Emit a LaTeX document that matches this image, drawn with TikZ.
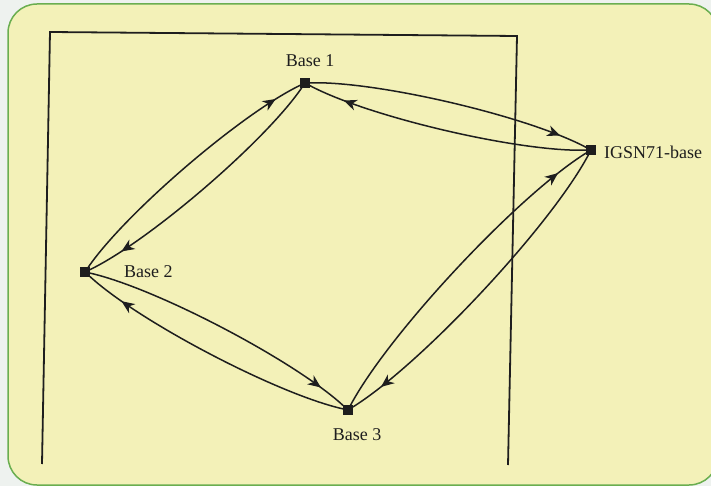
\documentclass[tikz,border=0pt]{standalone}
\usepackage{fontspec}
\setmainfont{Liberation Serif}
\usetikzlibrary{arrows.meta,decorations.markings}
\definecolor{panelfill}{HTML}{F3F1B8}
\definecolor{panelborder}{HTML}{6AAE50}
\definecolor{outside}{HTML}{EEF2EF}
\definecolor{ink}{HTML}{1E1E1E}
\tikzset{
  station/.style={fill=ink, draw=none, minimum size=9.5pt, inner sep=0pt, outer sep=0pt},
  lbl/.style={font=\fontsize{18}{18}\selectfont, text=ink, inner sep=0pt},
  leg/.style={draw=ink, line width=1.5pt, bend left=15, looseness=0.6,
    postaction={decorate, decoration={markings,
      mark=at position #1 with {\arrow{Stealth[length=13pt,width=11pt,inset=4pt]}}}}},
  leg/.default=0.9,
  framestyle/.style={draw=ink, line width=1.8pt},
}
\begin{document}
\begin{tikzpicture}[x=1pt,y=-1pt]
  \useasboundingbox (0,0) rectangle (711,486);
  \fill[outside] (0,0) rectangle (711,486);
  \draw[panelborder, fill=panelfill, line width=1.5pt, rounded corners=29pt]
    (8,4) rectangle (718,485);
  % frame
  \coordinate (fbl) at (42,464);
  \coordinate (ftl) at (50,32);
  \coordinate (ftr) at (517,36);
  \coordinate (fbr) at (508,465);
  \draw[framestyle] (fbl) -- (ftl) -- (ftr) -- (fbr);
  % stations
  \node[station] (b1) at (305,83) {};
  \node[station] (ig) at (591,150) {};
  \node[station] (b2) at (85,272) {};
  \node[station] (b3) at (348,410) {};
  % labels
  \node[lbl] (l1) at (310,61) {Base 1};
  \node[lbl, anchor=west] (lig) at (604,152) {IGSN71-base};
  \node[lbl, anchor=west] (l2) at (124,272) {Base 2};
  \node[lbl] (l3) at (357,435) {Base 3};
  % connectors
  \draw[leg=0.9] (b2) to (b1);
  \draw[leg=0.87] (b1) to (b2);
  \draw[leg=0.9] (b1) to (ig);
  \draw[leg=0.87] (ig) to (b1);
  \draw[leg=0.9] (ig) to (b3);
  \draw[leg=0.9] (b3) to (ig);
  \draw[leg=0.9] (b2) to (b3);
  \draw[leg=0.86] (b3) to (b2);
\end{tikzpicture}
\end{document}
